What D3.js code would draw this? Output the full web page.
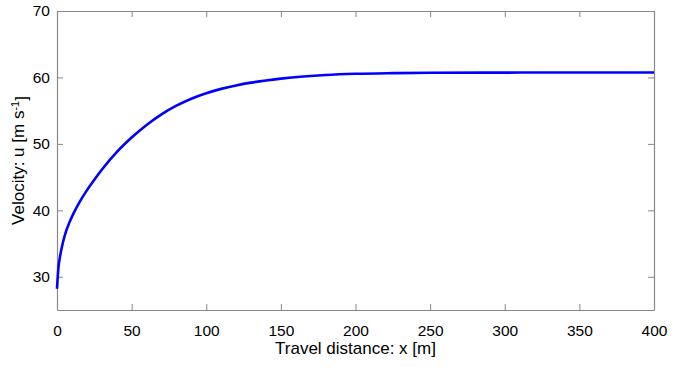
<!DOCTYPE html>
<html>
<head>
<meta charset="utf-8">
<script src="https://cdn.jsdelivr.net/npm/d3@7"></script>
<style>
  body { margin: 0; background: #fff; }
  text { font-family: "Liberation Sans", Arial, sans-serif; fill: #000; }
</style>
</head>
<body>
<script>
// travel distance (m) and velocity (m/s)
var distance = [0, 1, 2, 4, 6, 8, 11, 15, 20, 25, 30, 40, 50, 60, 70, 80, 90, 100, 110, 120, 130, 140, 150, 165, 180, 200, 225, 250, 300, 350, 400];
var velocity = [28.2, 31.5, 33.0, 35.2, 36.8, 38.0, 39.5, 41.2, 43.0, 44.6, 46.1, 48.75, 50.95, 52.85, 54.45, 55.75, 56.8, 57.62, 58.28, 58.8, 59.22, 59.55, 59.82, 60.14, 60.37, 60.55, 60.65, 60.7, 60.73, 60.75, 60.75];
var xTicks = [0, 50, 100, 150, 200, 250, 300, 350, 400];
var yTicks = [30, 40, 50, 60, 70];

var width = 673,
    height = 367,
    margin = {top: 11, right: 19, bottom: 57, left: 57},
    axisColor = "#888";

var x = d3.scaleLinear()
    .domain([0, 400])
    .range([margin.left, width - margin.right]);

var y = d3.scaleLinear()
    .domain([25, 70])
    .range([height - margin.bottom, margin.top]);

var svg = d3.select("body").append("svg")
    .attr("width", width)
    .attr("height", height);

var points = distance.map(function(d, i) { return {x: d, u: velocity[i]}; });

// axes, ticks pointing inward on all four sides (box on)
function styleAxis(g) {
  g.select(".domain").attr("stroke", axisColor).attr("stroke-width", 1.2);
  g.selectAll(".tick line").attr("stroke", axisColor);
  g.selectAll(".tick text").attr("fill", "#000").style("font-size", "15.5px");
}

svg.append("g")
    .attr("transform", "translate(0," + y.range()[0] + ")")
    .call(d3.axisBottom(x).tickValues(xTicks).tickSizeInner(-6).tickSizeOuter(0).tickPadding(15))
    .call(styleAxis);

svg.append("g")
    .attr("transform", "translate(0," + y.range()[1] + ")")
    .call(d3.axisTop(x).tickValues(xTicks).tickSizeInner(-6).tickSizeOuter(0).tickFormat(""))
    .call(styleAxis);

svg.append("g")
    .attr("transform", "translate(" + x.range()[0] + ",0)")
    .call(d3.axisLeft(y).tickValues(yTicks).tickSizeInner(-6).tickSizeOuter(0).tickPadding(7))
    .call(styleAxis);

svg.append("g")
    .attr("transform", "translate(" + x.range()[1] + ",0)")
    .call(d3.axisRight(y).tickValues(yTicks).tickSizeInner(-6).tickSizeOuter(0).tickFormat(""))
    .call(styleAxis);

// the curve
var line = d3.line()
    .x(function(d) { return x(d.x); })
    .y(function(d) { return y(d.u); })
    .curve(d3.curveMonotoneX);

svg.append("path")
    .datum(points)
    .attr("fill", "none")
    .attr("stroke", "#0000ff")
    .attr("stroke-width", 2.6)
    .attr("d", line);

// axis titles
svg.append("text")
    .attr("x", (x.range()[0] + x.range()[1]) / 2)
    .attr("y", 354)
    .attr("text-anchor", "middle")
    .style("font-size", "17px")
    .text("Travel distance: x [m]");

var ylab = svg.append("text")
    .attr("transform", "translate(24," + (y.range()[0] + y.range()[1]) / 2 + ") rotate(-90)")
    .attr("text-anchor", "middle")
    .style("font-size", "17px");
ylab.append("tspan").text("Velocity: u [m s");
ylab.append("tspan").attr("dy", "-0.45em").style("font-size", "11px").text("-1");
ylab.append("tspan").attr("dy", "0.45em").text("]");
</script>
</body>
</html>
